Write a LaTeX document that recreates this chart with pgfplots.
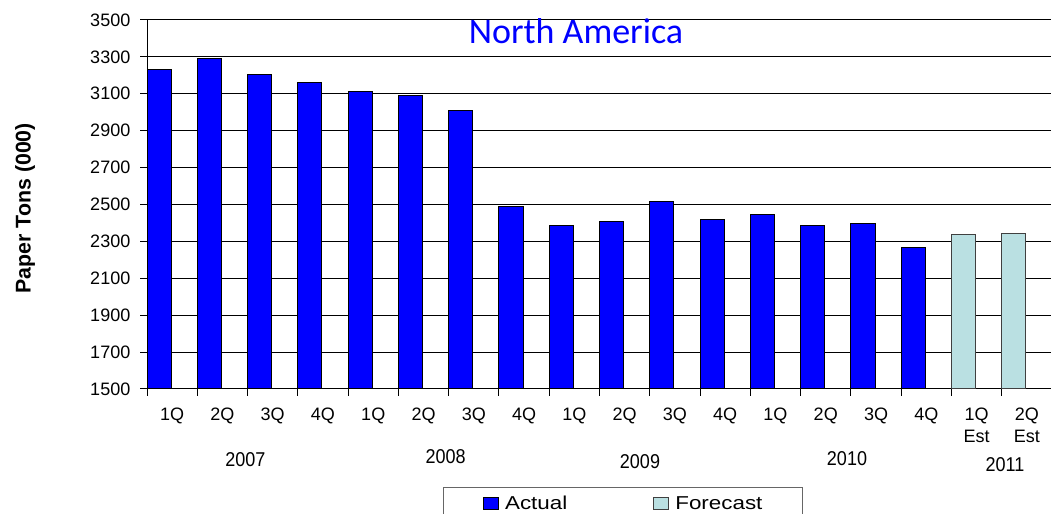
\documentclass[border=0pt]{standalone}
\usepackage{fontspec}
\setmainfont{Liberation Sans}
\newfontfamily\titlefont{Carlito}
\newfontfamily\legfont{Liberation Sans}[FakeStretch=1.2]
\newfontfamily\yearfont{Liberation Sans}[FakeStretch=0.9]
\usepackage{pgfplots}
\pgfplotsset{compat=1.18}

\definecolor{actual}{RGB}{0,0,255}
\definecolor{forecast}{RGB}{186,224,226}

\pgfplotsset{
  sqlegend/.style={legend image code/.code={
    \draw[##1, line width=0.75pt] (0pt,0pt) rectangle (11.25pt,9pt);}},
}

\begin{document}
\begin{tikzpicture}
\useasboundingbox (0,0) rectangle (788.25pt,385.5pt);
\begin{axis}[
    at={(110.25pt,93.75pt)}, anchor=south west,
    scale only axis,
    width=678.75pt, height=276.75pt,
    xmin=-0.5, xmax=17.5,
    ymin=1500, ymax=3500,
    axis x line*=bottom, axis y line*=left,
    axis line style={-, black, line width=0.75pt},
    ytick={1500,1700,...,3500},
    xtick={0,...,17},
    xticklabels={1Q,2Q,3Q,4Q,1Q,2Q,3Q,4Q,1Q,2Q,3Q,4Q,1Q,2Q,3Q,4Q,{1Q\\Est},{2Q\\Est}},
    minor xtick={-0.5,0.5,...,17.5},
    major x tick style={draw=none},
    tick align=outside,
    major tick length=5pt, minor tick length=5pt,
    tick style={black, line width=0.75pt},
    ymajorgrids, xmajorgrids=false,
    grid style={black, line width=0.75pt},
    /pgf/number format/.cd, 1000 sep={}, assume math mode=true, /pgfplots/.cd,
    ticklabel style={font=\fontsize{13.5}{16.5}\selectfont},
    xticklabel style={align=center, yshift=-6pt},
    yticklabel style={xshift=-4pt},
    ylabel={Paper Tons (000)},
    every axis y label/.style={at={(axis description cs:-0.1348,0.49)}, anchor=center, rotate=90,
      font=\bfseries\fontsize{16}{19}\selectfont},
    legend columns=2,
    legend style={at={(axis description cs:0.3266,-0.2664)}, anchor=north west,
      draw=black!60, line width=0.75pt, inner xsep=30pt, inner ysep=6pt,
      font=\legfont\fontsize{14}{16}\selectfont,
      nodes={inner sep=0pt, anchor=base west},
      /tikz/every odd column/.append style={column sep=4.5pt},
      /tikz/every even column/.append style={column sep=64.5pt}},
]
\addplot[ybar, bar width=0.48, bar shift=-0.26, fill=actual, draw=black, line width=0.75pt, sqlegend]
  coordinates {(0,3233) (1,3294) (2,3202) (3,3162) (4,3113) (5,3090) (6,3007) (7,2488)
               (8,2386) (9,2410) (10,2518) (11,2417) (12,2446) (13,2386) (14,2397) (15,2267)};
\addlegendentry{Actual}
\addplot[ybar, bar width=0.48, bar shift=-0.26, fill=forecast, draw=black!75, line width=0.75pt, sqlegend]
  coordinates {(16,2339) (17,2345)};
\addlegendentry{Forecast}
\end{axis}
\node[anchor=base, inner sep=0pt, text=blue, font=\titlefont\fontsize{27}{30}\selectfont] at (432pt,353pt) {North America};
\begin{scope}[every node/.style={inner sep=0pt, font=\yearfont\fontsize{15}{18}\selectfont}]
\node at (184.1pt,40.5pt) {2007};
\node at (334.3pt,43pt) {2008};
\node at (480pt,39.2pt) {2009};
\node at (635.25pt,41.25pt) {2010};
\node at (753.75pt,36.75pt) {2011};
\end{scope}
\end{tikzpicture}
\end{document}
